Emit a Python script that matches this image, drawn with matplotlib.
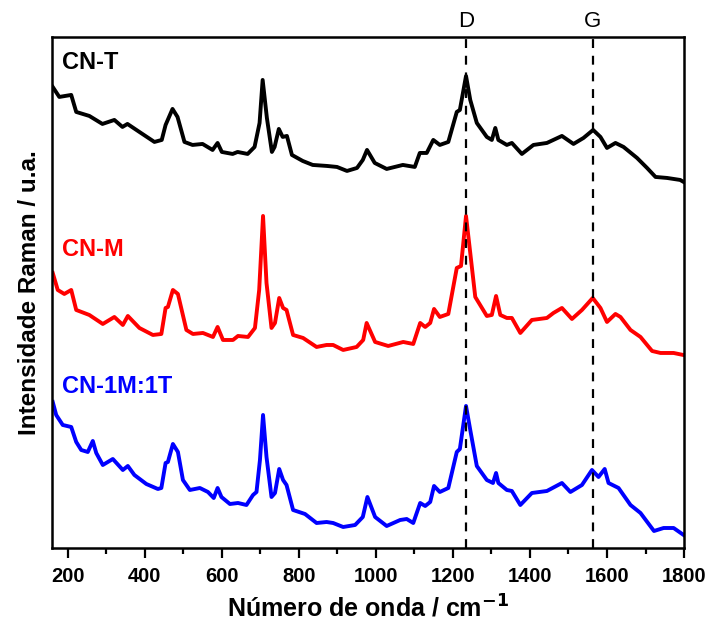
import matplotlib
matplotlib.use('Agg')
import matplotlib.pyplot as plt
from matplotlib.ticker import MultipleLocator

# Raman spectra (stacked, arbitrary units)
wn_T = [161, 178, 209, 222, 256, 290, 321, 342, 355, 386, 425, 444, 454, 472, 485, 503, 524, 550,
        576, 589, 600, 628, 641, 667, 685, 698, 706, 717, 730, 737, 748, 758, 769, 782, 810, 836,
        873, 899, 925, 951, 966, 977, 997, 1028, 1070, 1101, 1114, 1132, 1149, 1166, 1188, 1210,
        1218, 1234, 1245, 1262, 1288, 1301, 1310, 1318, 1340, 1353, 1379, 1409, 1444, 1483, 1513,
        1539, 1564, 1583, 1600, 1622, 1643, 1678, 1704, 1726, 1756, 1790, 1799]
int_T = [461, 451, 453, 436, 432, 424, 428, 421, 424, 416, 406, 408, 423, 439, 431, 406, 403, 404,
         398, 405, 396, 394, 396, 394, 401, 425, 468, 430, 396, 401, 419, 411, 412, 393, 387, 383,
         382, 381, 377, 380, 388, 398, 385, 379, 383, 381, 395, 395, 408, 403, 406, 436,
         438, 472, 448, 425, 411, 408, 420, 408, 403, 405, 394, 403, 405, 412, 404,
         410, 418, 411, 400, 405, 401, 390, 380, 371, 370, 368, 366]

wn_M = [161, 174, 191, 209, 222, 256, 291, 321, 343, 356, 386, 421, 443, 454, 460, 473, 486, 508,
        525, 551, 577, 589, 603, 629, 642, 668, 686, 697, 707, 716, 729, 738, 749, 759, 768, 785,
        811, 846, 872, 889, 915, 950, 967, 976, 998, 1032, 1071, 1097, 1115, 1128, 1141, 1151,
        1166, 1188, 1210, 1221, 1234, 1245, 1258, 1288, 1301, 1312, 1323, 1340, 1353, 1375, 1405,
        1444, 1461, 1483, 1509, 1535, 1563, 1583, 1600, 1622, 1635, 1661, 1687, 1717, 1739, 1773, 1798]
int_M = [275, 258, 254, 258, 238, 233, 224, 231, 223, 232, 220, 213, 214, 240, 241, 258, 254, 218,
         214, 215, 211, 221, 208, 208, 212, 211, 220, 258, 332, 265, 220, 225, 250, 240, 238, 213,
         210, 201, 203, 203, 198, 201, 208, 225, 206, 202, 206, 204, 225, 221, 225, 239,
         231, 234, 280, 282, 332, 295, 251, 232, 233, 252, 233, 230, 230, 215, 228,
         230, 235, 240, 229, 238, 250, 240, 226, 234, 231, 218, 211, 197, 195, 195, 193]

wn_MT = [161, 170, 187, 209, 222, 235, 252, 265, 274, 291, 317, 343, 356, 373, 404, 434, 443, 454,
         460, 473, 486, 499, 517, 543, 564, 579, 589, 599, 621, 642, 664, 681, 690, 699, 707, 716,
         729, 738, 749, 759, 768, 785, 816, 846, 872, 889, 915, 946, 966, 978, 998, 1028, 1063,
         1080, 1097, 1115, 1128, 1141, 1151, 1166, 1188, 1210, 1218, 1234, 1245, 1262, 1288, 1304,
         1312, 1318, 1340, 1353, 1375, 1405, 1444, 1483, 1505, 1535, 1561, 1578, 1594, 1604, 1630,
         1661, 1687, 1722, 1747, 1773, 1799]
int_MT = [146, 133, 123, 121, 106, 98, 96, 107, 95, 83, 89, 78, 82, 73, 64, 59, 60, 85,
          86, 104, 96, 68, 58, 60, 56, 50, 60, 51, 44, 45, 43, 53, 56, 88, 133, 91,
          51, 55, 79, 68, 63, 38, 34, 25, 26, 25, 21, 23, 31, 51, 31, 22, 28,
          29, 25, 45, 42, 46, 62, 56, 60, 96, 99, 142, 118, 82, 68, 65,
          75, 65, 58, 57, 43, 55, 57, 65, 56, 63, 78, 71, 79, 65, 60,
          43, 35, 17, 20, 20, 13]

names = ['CN-T', 'CN-M', 'CN-1M:1T']
colors = ['black', 'red', 'blue']
label_y = [485, 298, 161]

band_pos = [1234, 1563]
band_names = ['D', 'G']

plt.rcParams['font.family'] = ['Liberation Sans', 'DejaVu Sans']

fig = plt.figure(figsize=(7.07, 6.26), dpi=100)
ax = fig.add_axes([0.0735, 0.1246, 0.894, 0.8164])

spectra = [(wn_T, int_T), (wn_M, int_M), (wn_MT, int_MT)]
for (wn, inten), name, c, ly in zip(spectra, names, colors, label_y):
    ax.plot(wn, inten, color=c, lw=2.8, solid_joinstyle='round')
    ax.text(184, ly, name, color=c, fontsize=17, fontweight='bold', va='center', ha='left')

for pos, b in zip(band_pos, band_names):
    ax.axvline(pos, color='black', ls=(0, (4, 3.5)), lw=1.6)
    ax.text(pos, 1.01, b, transform=ax.get_xaxis_transform(), ha='center', va='bottom',
            fontsize=16)

ax.set_xlim(159, 1800)
ax.set_ylim(0, 511)
ax.xaxis.set_major_locator(MultipleLocator(200))
ax.xaxis.set_minor_locator(MultipleLocator(100))
ax.tick_params(axis='x', which='major', direction='out', length=7, width=1.6, labelsize=14.5, pad=7)
ax.tick_params(axis='x', which='minor', direction='out', length=4, width=1.6)
ax.set_yticks([])
for lbl in ax.get_xticklabels():
    lbl.set_fontweight('bold')
for s in ax.spines.values():
    s.set_linewidth(1.8)

ax.set_xlabel('Número de onda / cm$^{\\mathbf{-1}}$', fontsize=18, fontweight='bold', labelpad=6)
ax.set_ylabel('Intensidade Raman / u.a.', fontsize=17.5, fontweight='bold', labelpad=8)

fig.savefig('out.png', dpi=100)
